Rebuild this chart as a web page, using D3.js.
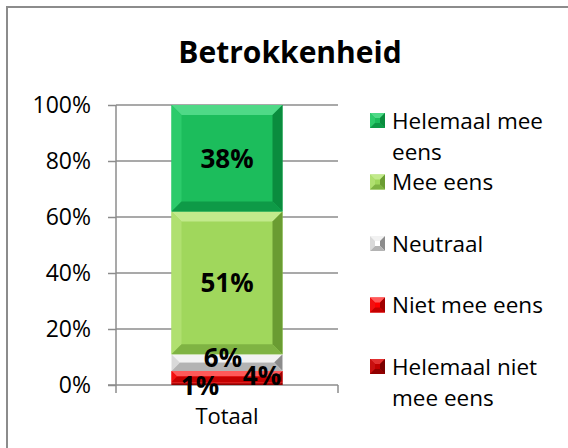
<!DOCTYPE html>
<html>
<head>
<meta charset="utf-8">
<script src="https://cdn.jsdelivr.net/npm/d3@7"></script>
<style>
  html, body { margin: 0; padding: 0; background: #fff; }
  svg { display: block; font-family: "Open Sans", "Noto Sans", sans-serif; }
</style>
</head>
<body>
<svg id="chart" width="568" height="448"></svg>
<script>
// Survey answers, stacked from the bottom of the bar upwards
const categories = ["Totaal"];
const answers = ["Helemaal niet mee eens", "Niet mee eens", "Neutraal", "Mee eens", "Helemaal mee eens"];
const shares = [0.01, 0.04, 0.06, 0.51, 0.38];
const yTicks = [0, 0.2, 0.4, 0.6, 0.8, 1.0];
const legendOrder = ["Helemaal mee eens", "Mee eens", "Neutraal", "Niet mee eens", "Helemaal niet mee eens"];
const legendLines = {
  "Helemaal mee eens": ["Helemaal mee", "eens"],
  "Mee eens": ["Mee eens"],
  "Neutraal": ["Neutraal"],
  "Niet mee eens": ["Niet mee eens"],
  "Helemaal niet mee eens": ["Helemaal niet", "mee eens"]
};

// Base fill plus bevel tones (top, left, right, bottom) per answer
const palette = {
  "Helemaal mee eens":      { base: "#1cbd5c", top: "#4fd987", left: "#2ccb6b", right: "#0a8c3e", bottom: "#0e9a47" },
  "Mee eens":               { base: "#a0d75c", top: "#c2ea8c", left: "#b0e070", right: "#6a9c32", bottom: "#7fb343" },
  "Neutraal":               { base: "#ffffff", top: "#f2f2f2", left: "#d9d9d9", right: "#8c8c8c", bottom: "#b3b3b3" },
  "Niet mee eens":          { base: "#ff0000", top: "#ff5a5a", left: "#f21010", right: "#a00000", bottom: "#c40000" },
  "Helemaal niet mee eens": { base: "#c00000", top: "#e03030", left: "#c81010", right: "#7a0000", bottom: "#900000" }
};

// Small nudges for the crowded labels near the bottom of the bar
const labelNudge = {
  "Neutraal": [-4, -5],
  "Niet mee eens": [35, -1],
  "Helemaal niet mee eens": [-27, 2]
};

const svg = d3.select("#chart");

// Chart frame
svg.append("rect")
  .attr("x", 7).attr("y", 7).attr("width", 600).attr("height", 500)
  .attr("fill", "#fff").attr("stroke", "#8c8c8c").attr("stroke-width", 2);

// Title
svg.append("text")
  .attr("x", 290).attr("y", 63)
  .attr("text-anchor", "middle")
  .attr("font-size", 30).attr("font-weight", 700)
  .attr("fill", "#000")
  .text("Betrokkenheid");

const plot = { left: 116, right: 338, top: 105, bottom: 385 };

const y = d3.scaleLinear().domain([0, 1]).range([plot.bottom, plot.top]);
const x = d3.scaleBand().domain(categories).range([plot.left, plot.right])
  .paddingInner(0.5).paddingOuter(0.25);

// Gridlines
svg.append("g").selectAll("line")
  .data(yTicks.filter(t => t > 0))
  .join("line")
  .attr("x1", plot.left).attr("x2", plot.right)
  .attr("y1", d => y(d)).attr("y2", d => y(d))
  .attr("stroke", "#8c8c8c").attr("stroke-width", 1.5);

// Value axis
const yAxis = d3.axisLeft(y).tickValues(yTicks).tickSize(8).tickPadding(17)
  .tickFormat(d3.format(".0%"));
const gy = svg.append("g").attr("transform", `translate(${plot.left},0)`).call(yAxis);
gy.select(".domain").remove();
gy.selectAll(".tick line").attr("stroke", "#8c8c8c").attr("stroke-width", 1.5);
gy.selectAll(".tick text").attr("font-size", 23).attr("fill", "#000")
  .attr("font-family", "Open Sans, sans-serif");
svg.append("line")
  .attr("x1", plot.left).attr("x2", plot.left)
  .attr("y1", plot.top).attr("y2", plot.bottom + 8)
  .attr("stroke", "#8c8c8c").attr("stroke-width", 1.5);

// Category axis
const xAxis = d3.axisBottom(x).tickSize(0).tickPadding(23);
const gx = svg.append("g").attr("transform", `translate(0,${plot.bottom})`).call(xAxis);
gx.select(".domain").remove();
gx.selectAll(".tick text").attr("font-size", 22).attr("fill", "#000")
  .attr("font-family", "Open Sans, sans-serif");
svg.append("line")
  .attr("x1", plot.left - 8).attr("x2", plot.right)
  .attr("y1", plot.bottom).attr("y2", plot.bottom)
  .attr("stroke", "#8c8c8c").attr("stroke-width", 1.5);
svg.append("line")
  .attr("x1", plot.right).attr("x2", plot.right)
  .attr("y1", plot.bottom).attr("y2", plot.bottom + 8)
  .attr("stroke", "#8c8c8c").attr("stroke-width", 1.5);

// Bevelled rectangle: flat centre with four sloped edges
function bevel(g, x0, y0, w, h, col, size) {
  const b = Math.max(0, Math.min(size, w / 2, h / 2));
  const x1 = x0 + w, y1 = y0 + h;
  const faces = [
    { c: col.base,   p: [[x0, y0], [x1, y0], [x1, y1], [x0, y1]] },
    { c: col.top,    p: [[x0, y0], [x1, y0], [x1 - b, y0 + b], [x0 + b, y0 + b]] },
    { c: col.left,   p: [[x0, y0], [x0 + b, y0 + b], [x0 + b, y1 - b], [x0, y1]] },
    { c: col.right,  p: [[x1, y0], [x1, y1], [x1 - b, y1 - b], [x1 - b, y0 + b]] },
    { c: col.bottom, p: [[x0, y1], [x0 + b, y1 - b], [x1 - b, y1 - b], [x1, y1]] }
  ];
  g.selectAll(null).data(faces).join("polygon")
    .attr("points", d => d.p.map(q => q.join(",")).join(" "))
    .attr("fill", d => d.c);
}

// Stacked segments
const stacked = [];
let acc = 0;
answers.forEach((a, i) => {
  stacked.push({ answer: a, value: shares[i], y0: acc, y1: acc + shares[i] });
  acc += shares[i];
});

const bars = svg.append("g");
stacked.forEach(s => {
  const g = bars.append("g");
  const top = y(s.y1), h = y(s.y0) - y(s.y1);
  bevel(g, x("Totaal"), top, x.bandwidth(), h, palette[s.answer], 10);
});

// Value labels
const fmt = d3.format(".0%");
svg.append("g").selectAll("text")
  .data(stacked)
  .join("text")
  .attr("x", d => x("Totaal") + x.bandwidth() / 2 + (labelNudge[d.answer] || [0, 0])[0])
  .attr("y", d => y((d.y0 + d.y1) / 2) + (labelNudge[d.answer] || [0, 0])[1])
  .attr("dy", "0.36em")
  .attr("text-anchor", "middle")
  .attr("font-size", 26).attr("font-weight", 700)
  .attr("fill", "#000")
  .text(d => fmt(d.value));

// Legend
const legend = svg.append("g");
const legendTop = 121, legendStep = 61.5, lineGap = 31;
legendOrder.forEach((a, i) => {
  const cy = legendTop + i * legendStep;
  const g = legend.append("g");
  bevel(g, 370, cy - 8, 15, 15, palette[a], 5);
  g.append("text")
    .attr("x", 392).attr("y", cy)
    .attr("font-size", 22.5).attr("fill", "#000")
    .selectAll("tspan").data(legendLines[a]).join("tspan")
    .attr("x", 392).attr("dy", (d, j) => j === 0 ? "0.35em" : lineGap)
    .text(d => d);
});
</script>
</body>
</html>
